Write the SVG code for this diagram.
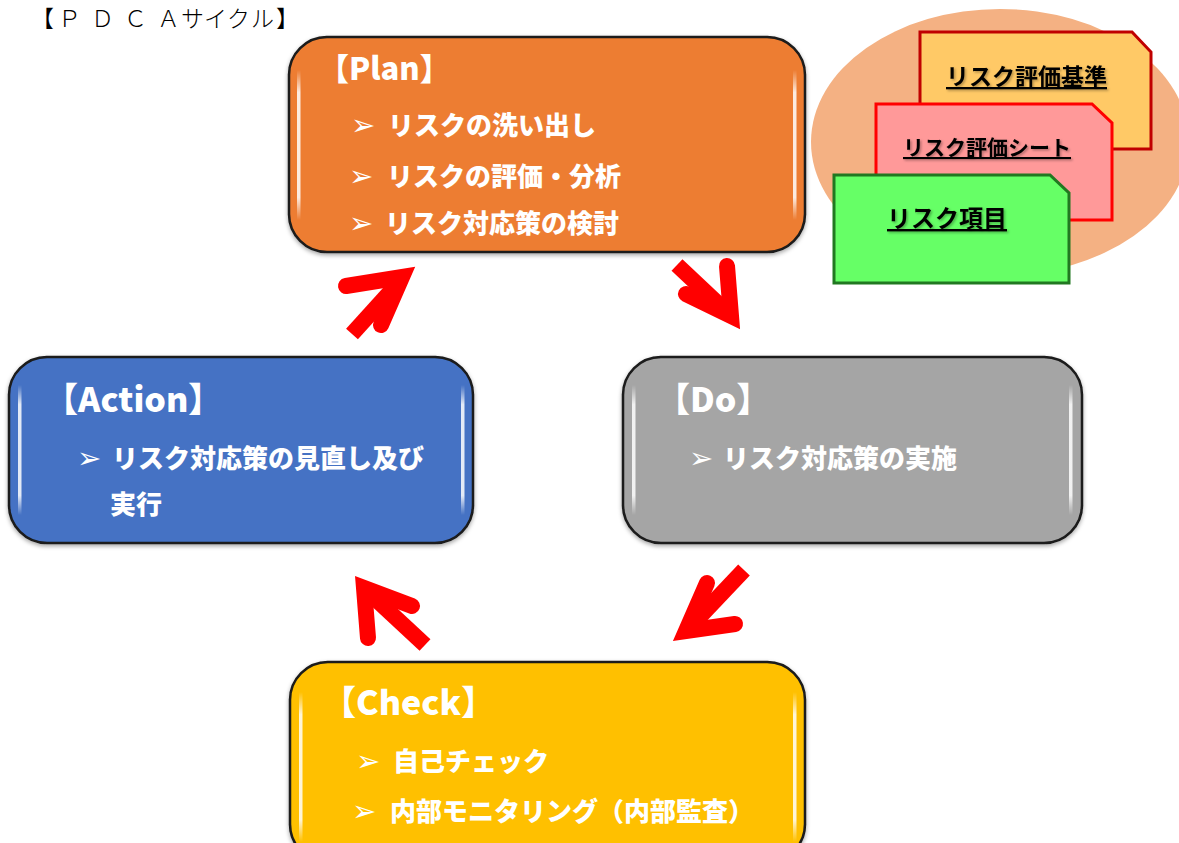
<svg xmlns="http://www.w3.org/2000/svg" width="1179" height="843" viewBox="0 0 1179 843">
<style>
.title{font-family:"Noto Sans CJK JP","Liberation Sans",sans-serif;font-size:23px;font-weight:300;fill:#000}
.box{stroke:#1a1a1a;stroke-width:2.5}
.hd{font-family:"Noto Sans CJK JP","Liberation Sans",sans-serif;font-weight:900;fill:#fff}
.bl{font-family:"Noto Sans CJK JP","DejaVu Sans",sans-serif;font-weight:900;font-size:26px;fill:#fff}
.mk{font-family:"DejaVu Sans","Noto Sans CJK JP",sans-serif;font-size:29px;fill:#fff}
.doc{stroke-width:3}
.dt{font-family:"Noto Sans CJK JP","Liberation Sans",sans-serif;font-weight:700;fill:#000;text-decoration:underline}
.arr{fill:none;stroke:#ff0000;stroke-width:16}
</style>
<defs>
<linearGradient id="hl" x1="0" y1="0" x2="0" y2="1">
<stop offset="0" stop-color="#fff" stop-opacity="0"/>
<stop offset="0.15" stop-color="#fff" stop-opacity="0.85"/>
<stop offset="0.85" stop-color="#fff" stop-opacity="0.85"/>
<stop offset="1" stop-color="#fff" stop-opacity="0"/>
</linearGradient>
<filter id="sh" x="-5%" y="-5%" width="110%" height="115%">
<feDropShadow dx="0" dy="2" stdDeviation="2" flood-color="#000" flood-opacity="0.35"/>
</filter>
<filter id="ts" x="-5%" y="-20%" width="110%" height="140%">
<feDropShadow dx="1.5" dy="1.5" stdDeviation="1" flood-color="#000" flood-opacity="0.3"/>
</filter>
</defs>
<rect width="1179" height="843" fill="#fff"/>

<text class="title" y="27"><tspan x="31">【</tspan><tspan x="58">Ｐ</tspan><tspan x="91">Ｄ</tspan><tspan x="124">Ｃ</tspan><tspan x="157">Ａ</tspan><tspan x="181">サ</tspan><tspan x="204">イ</tspan><tspan x="227">ク</tspan><tspan x="251">ル</tspan><tspan x="276">】</tspan></text>

<g id="docs">
<ellipse cx="1000" cy="142" rx="189" ry="133" fill="#f4b183"/>
<g id="doc-criteria">
<path class="doc" d="M920,32 L1132,32 L1151,52 L1151,149 L920,149 Z" fill="#ffc966" stroke="#c00000"/>
<text class="dt" x="946" y="85" font-size="23" filter="url(#ts)">リスク評価基準</text>
</g>
<g id="doc-sheet">
<path class="doc" d="M876,104 L1092,104 L1112,123 L1112,220 L876,220 Z" fill="#ff9999" stroke="#ff0000"/>
<text class="dt" x="903" y="155" font-size="21" filter="url(#ts)">リスク評価シート</text>
</g>
<g id="doc-items">
<path class="doc" d="M834,175 L1050,175 L1069,193 L1069,283 L834,283 Z" fill="#66ff66" stroke="#217821"/>
<text class="dt" x="887" y="227" font-size="24" filter="url(#ts)">リスク項目</text>
</g>
</g>

<g id="plan">
<rect class="box" x="289" y="37" width="516" height="215" rx="38" fill="#ed7d31" filter="url(#sh)"/>
<rect x="297" y="70" width="3.5" height="150" fill="url(#hl)"/>
<rect x="793" y="70" width="3.5" height="150" fill="url(#hl)"/>
<text class="hd" x="318" y="80" font-size="31">【Plan】</text>
<text class="mk" x="351" y="135">➢</text><text class="bl" x="388" y="135">リスクの洗い出し</text>
<text class="mk" x="349" y="186">➢</text><text class="bl" x="387" y="186">リスクの評価・分析</text>
<text class="mk" x="349" y="233">➢</text><text class="bl" x="385" y="233">リスク対応策の検討</text>
</g>

<g id="action">
<rect class="box" x="9" y="357" width="464" height="186" rx="38" fill="#4472c4" filter="url(#sh)"/>
<rect x="18" y="385" width="3.5" height="130" fill="url(#hl)"/>
<rect x="461" y="385" width="3.5" height="130" fill="url(#hl)"/>
<text class="hd" x="44" y="412" font-size="34">【Action】</text>
<text class="mk" x="77" y="468">➢</text><text class="bl" x="112" y="468" font-size="27">リスク対応策の見直し及び</text>
<text class="bl" x="110" y="514" font-size="27">実行</text>
</g>

<g id="do">
<rect class="box" x="623" y="357" width="459" height="186" rx="38" fill="#a5a5a5" filter="url(#sh)"/>
<rect x="632" y="385" width="3.5" height="130" fill="url(#hl)"/>
<rect x="1069" y="385" width="3.5" height="130" fill="url(#hl)"/>
<text class="hd" x="656" y="412" font-size="34">【Do】</text>
<text class="mk" x="689" y="468">➢</text><text class="bl" x="723" y="468" font-size="27">リスク対応策の実施</text>
</g>

<g id="check">
<rect class="box" x="290" y="662" width="515" height="200" rx="38" fill="#ffc000" filter="url(#sh)"/>
<rect x="299" y="692" width="3.5" height="150" fill="url(#hl)"/>
<rect x="793" y="692" width="3.5" height="150" fill="url(#hl)"/>
<text class="hd" x="322" y="715" font-size="34">【Check】</text>
<text class="mk" x="356" y="771">➢</text><text class="bl" x="393" y="771">自己チェック</text>
<text class="mk" x="352" y="821">➢</text><text class="bl" x="390" y="821" font-size="25">内部モニタリング（内部監査）</text>
</g>

<g id="connectors">
<path class="arr" stroke-linecap="round" d="M346,286 L402,277 L381,325"/>
<path class="arr" d="M352,334 L400,281"/>
<path class="arr" stroke-linecap="round" d="M727,266 L731,316 L686,294"/>
<path class="arr" d="M677,265 L728,313"/>
<path class="arr" stroke-linecap="round" d="M707,583 L686,631 L735,624"/>
<path class="arr" d="M744,570 L690,627"/>
<path class="arr" stroke-linecap="round" d="M412,606 L364,588 L368,638"/>
<path class="arr" d="M425,645 L368,592"/>
</g>
</svg>
